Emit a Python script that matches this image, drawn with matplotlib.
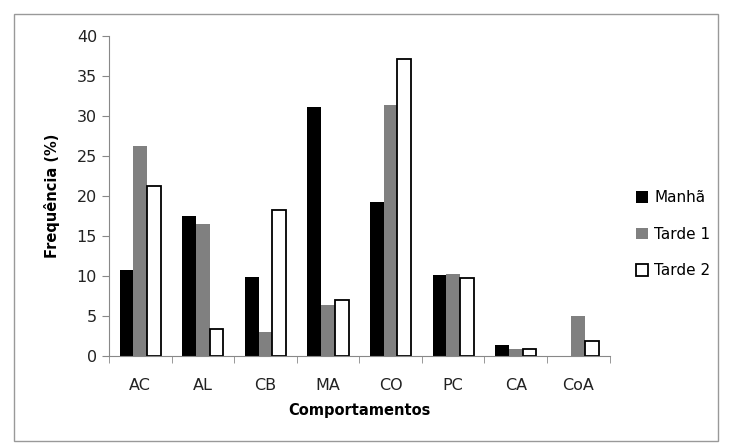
import matplotlib.pyplot as plt
import numpy as np
from matplotlib.patches import Rectangle

# Dados
categorias = ['AC', 'AL', 'CB', 'MA', 'CO', 'PC', 'CA', 'CoA']
manha = [10.8, 17.5, 9.9, 31.2, 19.3, 10.1, 1.3, 0.0]
tarde1 = [26.3, 16.5, 3.0, 6.4, 31.4, 10.3, 0.8, 5.0]
tarde2 = [21.2, 3.4, 18.2, 7.0, 37.2, 9.7, 0.9, 1.9]

plt.rcParams['font.family'] = ['DejaVu Sans']

fig = plt.figure(figsize=(7.31, 4.47), dpi=100)
ax = fig.add_axes([0.149, 0.204, 0.685, 0.715])

x = np.arange(len(categorias))
w = 0.22

ax.bar(x - w, manha, w, color='black', label='Manhã')
ax.bar(x, tarde1, w, color='#808080', label='Tarde 1')
ax.bar(x + w, tarde2, w, color='white', edgecolor='black', linewidth=1.3, label='Tarde 2')

ax.set_xlim(-0.5, len(categorias) - 0.5)
ax.set_ylim(0, 40)
ax.set_yticks(range(0, 41, 5))
ax.set_xticks(x)
ax.set_xticklabels(categorias)
ax.set_xticks(np.arange(-0.5, len(categorias), 1), minor=True)
ax.tick_params(axis='x', which='major', length=0, pad=16, labelsize=11.5, colors='#222222')
ax.tick_params(axis='x', which='minor', length=5, color='#888888')
ax.tick_params(axis='y', length=5, color='#888888', labelsize=11.5, labelcolor='#222222')

for s in ['top', 'right']:
    ax.spines[s].set_visible(False)
for s in ['left', 'bottom']:
    ax.spines[s].set_color('#888888')

ax.set_xlabel('Comportamentos', fontweight='bold', fontsize=10.5, labelpad=7)
ax.set_ylabel('Frequência (%)', fontweight='bold', fontsize=10.5, labelpad=12)

ax.legend(loc='center left', bbox_to_anchor=(1.025, 0.38), frameon=False,
          fontsize=11, handlelength=0.8, handleheight=0.8, handletextpad=0.4,
          labelspacing=1.4)

# borda do gráfico
fig.patches.append(Rectangle((0.019, 0.013), 0.963, 0.955, transform=fig.transFigure,
                             fill=False, edgecolor='#999999', linewidth=1))

fig.savefig('out.png', dpi=100)
